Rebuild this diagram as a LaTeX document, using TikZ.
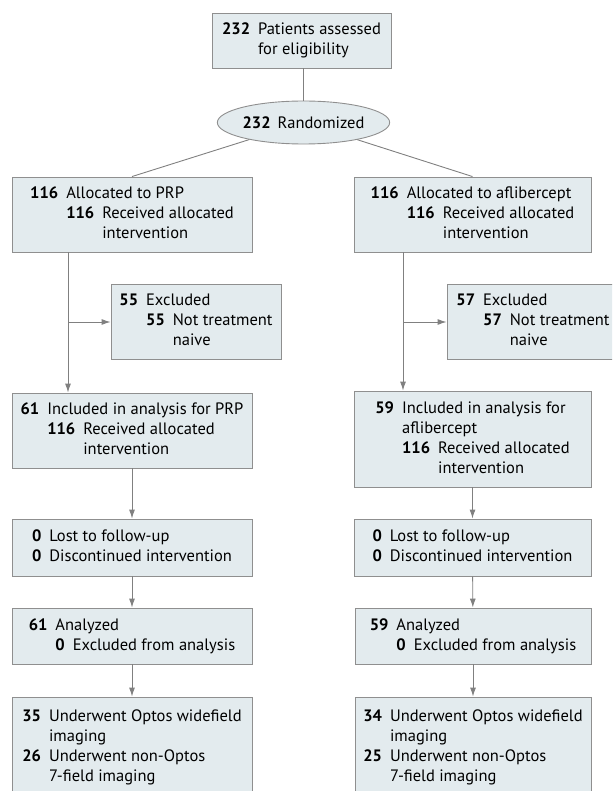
\documentclass[tikz,border=0pt]{standalone}
\usepackage{fontspec}
\setmainfont{PT Sans}
\usepackage{xcolor}
\usetikzlibrary{arrows.meta}
\usetikzlibrary{shapes.geometric}
\tikzset{>={Latex[length=9pt,width=6pt]}}
\definecolor{boxfill}{HTML}{E3EBEE}
\definecolor{boxline}{HTML}{8F8F8F}
\definecolor{flowline}{HTML}{808080}
\newcommand{\cnt}[1]{\textbf{#1}}

\begin{document}
\begin{tikzpicture}[x=1pt,y=-1pt,
	every node/.style={font=\fontsize{16.5}{20}\selectfont},
	box/.style={draw=boxline,fill=boxfill,line width=0.9pt,inner sep=0pt},
	flow/.style={draw=flowline,line width=0.9pt}]
	\path[use as bounding box,clip] (0,0) rectangle (612,791);
	\node[box,minimum width=179pt,minimum height=55pt] (assessed) at (301.5,40.5) {\begin{tabular}{@{}l@{\hspace{8pt}}l@{}}
		\cnt{232} & Patients assessed\\
		& for eligibility
	\end{tabular}};
	\node[box,ellipse,minimum width=161pt,minimum height=43pt] (random) at (303.5,122.5) {\cnt{232}\hspace{7pt}Randomized};
	\node[box,minimum width=240pt,minimum height=75pt] (prp) at (132,214.5) {\begin{tabular}{@{}l@{\hspace{8pt}}l@{\hspace{8pt}}l@{}}
		\cnt{116} & \multicolumn{2}{@{}l@{}}{Allocated to PRP}\\
		& \cnt{116} & Received allocated\\
		& & intervention
	\end{tabular}};
	\node[box,minimum width=237pt,minimum height=75pt] (aflib) at (472.5,214.5) {\begin{tabular}{@{}l@{\hspace{8pt}}l@{\hspace{8pt}}l@{}}
		\cnt{116} & \multicolumn{2}{@{}l@{}}{Allocated to aflibercept}\\
		& \cnt{116} & Received allocated\\
		& & intervention
	\end{tabular}};
	\node[box,minimum width=170pt,minimum height=75pt] (exprp) at (196,321.5) {\begin{tabular}{@{}l@{\hspace{8pt}}l@{\hspace{8pt}}l@{}}
		\cnt{55} & \multicolumn{2}{@{}l@{}}{Excluded}\\
		& \cnt{55} & Not treatment\\
		& & naive
	\end{tabular}};
	\node[box,minimum width=172pt,minimum height=75pt] (exaflib) at (533,321.5) {\begin{tabular}{@{}l@{\hspace{8pt}}l@{\hspace{8pt}}l@{}}
		\cnt{57} & \multicolumn{2}{@{}l@{}}{Excluded}\\
		& \cnt{57} & Not treatment\\
		& & naive
	\end{tabular}};
	\node[box,minimum width=240pt,minimum height=75pt] (inprp) at (132,430.5) {\begin{tabular}{@{}l@{\hspace{8pt}}l@{\hspace{8pt}}l@{}}
		\cnt{61} & \multicolumn{2}{@{}l@{}}{Included in analysis for PRP}\\
		& \cnt{116} & Received allocated\\
		& & intervention
	\end{tabular}};
	\node[box,minimum width=237pt,minimum height=96pt] (inaflib) at (472.5,439) {\begin{tabular}{@{}l@{\hspace{8pt}}l@{\hspace{8pt}}l@{}}
		\cnt{59} & \multicolumn{2}{@{}l@{}}{Included in analysis for}\\
		& \multicolumn{2}{@{}l@{}}{aflibercept}\\
		& \cnt{116} & Received allocated\\
		& & intervention
	\end{tabular}};
	\node[box,minimum width=240pt,minimum height=57pt] (lostprp) at (132,547.5) {\begin{tabular}{@{}l@{\hspace{8pt}}l@{}}
		\cnt{0} & Lost to follow-up\\
		\cnt{0} & Discontinued intervention
	\end{tabular}};
	\node[box,minimum width=237pt,minimum height=57pt] (lostaflib) at (472.5,547.5) {\begin{tabular}{@{}l@{\hspace{8pt}}l@{}}
		\cnt{0} & Lost to follow-up\\
		\cnt{0} & Discontinued intervention
	\end{tabular}};
	\node[box,minimum width=240pt,minimum height=56pt] (anprp) at (132,636) {\begin{tabular}{@{}l@{\hspace{8pt}}l@{\hspace{8pt}}l@{}}
		\cnt{61} & \multicolumn{2}{@{}l@{}}{Analyzed}\\
		& \cnt{0} & Excluded from analysis
	\end{tabular}};
	\node[box,minimum width=236pt,minimum height=56pt] (anaflib) at (473,636) {\begin{tabular}{@{}l@{\hspace{8pt}}l@{\hspace{8pt}}l@{}}
		\cnt{59} & \multicolumn{2}{@{}l@{}}{Analyzed}\\
		& \cnt{0} & Excluded from analysis
	\end{tabular}};
	\node[box,minimum width=240pt,minimum height=100pt] (imgprp) at (132,747) {\begin{tabular}{@{}l@{\hspace{8pt}}l@{}}
		\cnt{35} & Underwent Optos widefield\\
		& imaging\\
		\cnt{26} & Underwent non-Optos\\
		& 7-field imaging
	\end{tabular}};
	\node[box,minimum width=236pt,minimum height=100pt] (imgaflib) at (473,747) {\begin{tabular}{@{}l@{\hspace{8pt}}l@{}}
		\cnt{34} & Underwent Optos widefield\\
		& imaging\\
		\cnt{25} & Underwent non-Optos\\
		& 7-field imaging
	\end{tabular}};
	\coordinate (splitprp) at (68,322);
	\coordinate (splitaflib) at (403,322);
	\draw[flow] (random.north) -- (random.north |- assessed.south);
	\draw[flow] (random) -- (prp.north);
	\draw[flow] (random) -- (aflib.north);
	\draw[flow,->] (prp.south -| splitprp) -- (inprp.north -| splitprp);
	\draw[flow,->] (splitprp) -- (splitprp -| exprp.west);
	\draw[flow,->] (aflib.south -| splitaflib) -- (inaflib.north -| splitaflib);
	\draw[flow,->] (splitaflib) -- (splitaflib -| exaflib.west);
	\draw[flow,->] (inprp) -- (lostprp);
	\draw[flow,->] (inaflib) -- (lostaflib);
	\draw[flow,->] (lostprp) -- (anprp);
	\draw[flow,->] (lostaflib) -- (anaflib);
	\draw[flow,->] (anprp) -- (imgprp);
	\draw[flow,->] (anaflib) -- (imgaflib);
\end{tikzpicture}
\end{document}
